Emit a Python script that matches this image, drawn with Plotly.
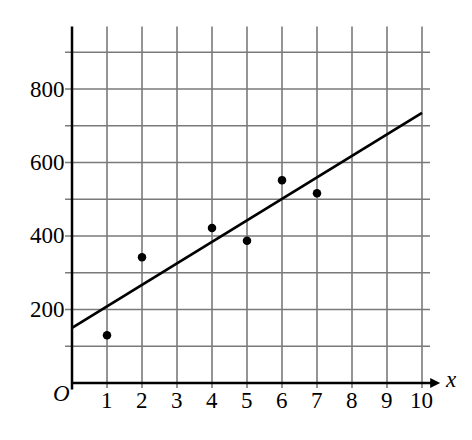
import plotly.graph_objects as go

# scatter data
x_pts = [1, 2, 4, 5, 6, 7]
y_pts = [130, 342, 422, 387, 552, 516]

# fitted line end points
line_x = [0, 10]
line_y = [150, 735]

x_ticks = [1, 2, 3, 4, 5, 6, 7, 8, 9, 10]
y_grid = [100, 200, 300, 400, 500, 600, 700, 800, 900]
y_labels = [200, 400, 600, 800]

FONT = "Liberation Serif"
GRID = "#7a7a7a"

fig = go.Figure()

# grid lines
for xv in x_ticks:
    fig.add_shape(type="line", xref="x", yref="y", x0=xv, x1=xv, y0=-14, y1=970,
                  line=dict(color=GRID, width=1.6), layer="below")
for yv in y_grid:
    fig.add_shape(type="line", xref="x", yref="y", x0=-0.2, x1=10.23, y0=yv, y1=yv,
                  line=dict(color=GRID, width=1.6), layer="below")

# axes
fig.add_shape(type="line", xref="x", yref="y", x0=0, x1=0, y0=-18, y1=970,
              line=dict(color="black", width=2.5))
fig.add_shape(type="line", xref="x", yref="y", x0=0, x1=10.4, y0=0, y1=0,
              line=dict(color="black", width=2.5))
fig.add_annotation(x=10.52, y=0, ax=10.2, ay=0, xref="x", yref="y", axref="x", ayref="y",
                   showarrow=True, arrowhead=2, arrowsize=1, arrowwidth=2, arrowcolor="black",
                   text="")

fig.add_trace(go.Scatter(x=line_x, y=line_y, mode="lines",
                         line=dict(color="black", width=2.7), showlegend=False))
fig.add_trace(go.Scatter(x=x_pts, y=y_pts, mode="markers",
                         marker=dict(color="black", size=8.5), showlegend=False))

for xv in x_ticks:
    fig.add_annotation(x=xv, y=0, text=str(xv), showarrow=False, yanchor="top", yshift=-3,
                       font=dict(family=FONT, size=23, color="black"))
for yv in y_labels:
    fig.add_annotation(x=0, y=yv, text=str(yv), showarrow=False, xanchor="right", xshift=-5,
                       font=dict(family=FONT, size=23, color="black"))
fig.add_annotation(x=0, y=0, text="<i>O</i>", showarrow=False, xanchor="right", yanchor="top",
                   xshift=0, yshift=4, font=dict(family=FONT, size=23, color="black"))
fig.add_annotation(x=10.52, y=0, text="<i>x</i>", showarrow=False, xanchor="left", xshift=3,
                   yshift=3, font=dict(family=FONT, size=23, color="black"))

fig.update_layout(
    width=472, height=440, autosize=False,
    margin=dict(l=42, r=20, t=2, b=18),
    paper_bgcolor="white", plot_bgcolor="white",
    xaxis=dict(range=[-0.629, 11.086], visible=False),
    yaxis=dict(range=[-128, 1015], visible=False),
)

fig.write_html("out.html")
